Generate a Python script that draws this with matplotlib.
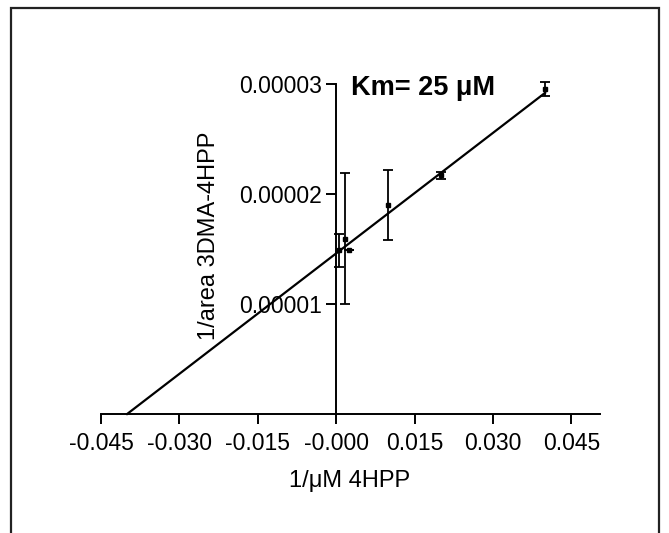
import numpy as np
import matplotlib
matplotlib.use("Agg")
import matplotlib.pyplot as plt
from matplotlib.patches import Rectangle

plt.rcParams['font.family'] = ['Liberation Sans', 'DejaVu Sans']

# 1/[4HPP] (1/uM) and 1/area, with SD
inv_s = [0.0006, 0.0017, 0.0025, 0.010, 0.020, 0.040]
inv_v = [1.49e-5, 1.595e-5, 1.49e-5, 1.90e-5, 2.17e-5, 2.955e-5]
inv_err = [0.15e-5, 0.595e-5, 0.0, 0.32e-5, 0.03e-5, 0.06e-5]

# fitted line
km = 25.0
intercept = 1.46e-5
line_end = 0.040

xticks = [-0.045, -0.030, -0.015, 0.0, 0.015, 0.030, 0.045]
xtick_labels = ["-0.045", "-0.030", "-0.015", "-0.000", "0.015", "0.030", "0.045"]
yticks = [0.00001, 0.00002, 0.00003]
ytick_labels = ["0.00001", "0.00002", "0.00003"]

W, H = 669, 533
fig = plt.figure(figsize=(W / 100, H / 100), dpi=100)
ax = fig.add_axes([101 / W, 1 - 414 / H, 499 / W, 330 / H])

slope = intercept * km
xl = np.array([-1 / km, line_end])
ax.plot(xl, intercept + slope * xl, color='black', lw=1.6, clip_on=False)

ax.errorbar(inv_s, inv_v, yerr=inv_err, fmt='s', ms=3.5, color='black',
            ecolor='black', elinewidth=1.3, capsize=3.5, capthick=1.3,
            clip_on=False)

ax.set_xlim(-0.045, 0.0505)
ax.set_ylim(0, 0.00003)

ax.spines['left'].set_position(('data', 0))
ax.spines['right'].set_visible(False)
ax.spines['top'].set_visible(False)
for s in ['left', 'bottom']:
    ax.spines[s].set_linewidth(1.4)

ax.set_xticks(xticks)
ax.set_xticklabels(xtick_labels)
ax.set_yticks(yticks)
ax.set_yticklabels(ytick_labels)
ax.tick_params(direction='out', length=7, width=1.4, labelsize=16.5)
ax.tick_params(axis='x', pad=6)
ax.tick_params(axis='y', pad=3)

fig.text(209 / W, 1 - 236 / H, "1/area 3DMA-4HPP", rotation=90,
         ha='center', va='center', fontsize=17)
fig.text(350 / W, 1 - 481 / H, "1/\u03bcM 4HPP", ha='center', va='center',
         fontsize=17)
fig.text(351 / W, 1 - 88 / H, "Km= 25 \u03bcM", ha='left', va='center',
         fontsize=19.5, fontweight='bold')

# outer frame
fig.patches.append(Rectangle((11 / W, -0.05), 648 / W, 1.05 - 8 / H,
                             transform=fig.transFigure, fill=False,
                             edgecolor='#222222', lw=1.6))

fig.savefig("out.png", dpi=100)
